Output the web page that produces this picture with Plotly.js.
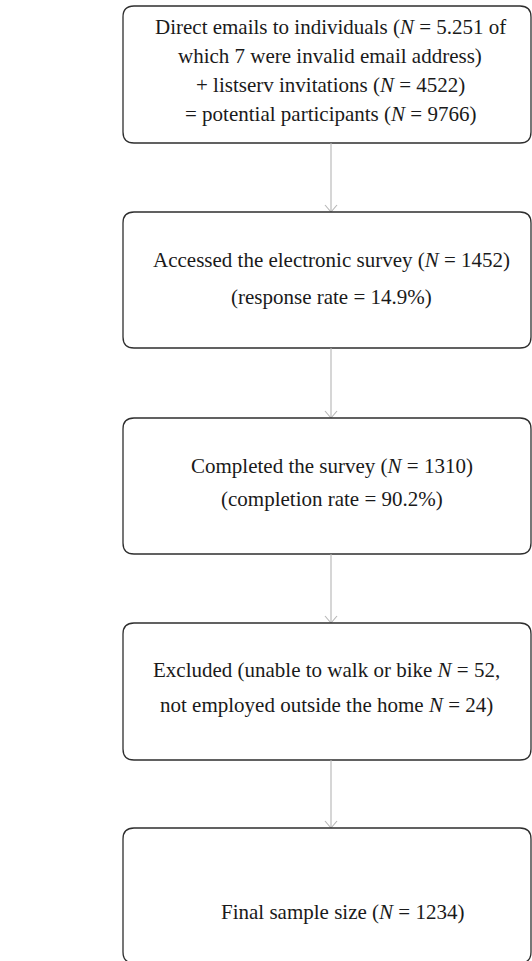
<!DOCTYPE html>
<html>
<head>
<meta charset="utf-8">
<script src="https://cdn.plot.ly/plotly-3.0.1.min.js"></script>
<style>html,body{margin:0;padding:0;background:#fff;}#chart{width:532px;height:961px;}</style>
</head>
<body>
<div id="chart"></div>
<script>
// ---- Data: the text of each step in the flow ----
const step1Lines = [
  "Direct emails to individuals (<i>N</i> = 5.251 of",
  "which 7 were invalid email address)",
  "+ listserv invitations (<i>N</i> = 4522)",
  "= potential participants (<i>N</i> = 9766)"
];
const step2Lines = [
  "Accessed the electronic survey (<i>N</i> = 1452)",
  "(response rate = 14.9%)"
];
const step3Lines = [
  "Completed the survey (<i>N</i> = 1310)",
  "(completion rate = 90.2%)"
];
const step4Lines = [
  "Excluded (unable to walk or bike <i>N</i> = 52,",
  "not employed outside the home <i>N</i> = 24)"
];
const step5Lines = [
  "Final sample size (<i>N</i> = 1234)"
];
const steps = [step1Lines, step2Lines, step3Lines, step4Lines, step5Lines];

// ---- Layout (positions / sizes / styles) ----
const W = 532, H = 961;
const boxLeft = 123, boxRight = 531, radius = 11;
const boxTop =    [6, 212, 418, 623, 828];
const boxBottom = [143, 348, 554, 760, 963];
const textCenterX = [330, 331, 332, 326, 342];
const lineYs = [[27, 56, 85, 114], [260, 297], [466, 499], [670, 705], [912]];
const arrowX = 331;
const font = {family: "'Liberation Serif', 'DejaVu Serif', serif", size: 21, color: "#1a1a1a"};

function roundRect(x0, y0, x1, y1, r) {
  return `M ${x0 + r},${y0} L ${x1 - r},${y0} Q ${x1},${y0} ${x1},${y0 + r} ` +
         `L ${x1},${y1 - r} Q ${x1},${y1} ${x1 - r},${y1} L ${x0 + r},${y1} ` +
         `Q ${x0},${y1} ${x0},${y1 - r} L ${x0},${y0 + r} Q ${x0},${y0} ${x0 + r},${y0} Z`;
}

const shapes = [];
const annotations = [];
steps.forEach((lines, i) => {
  shapes.push({
    type: "path", xref: "x", yref: "y",
    path: roundRect(boxLeft, boxTop[i], boxRight, boxBottom[i], radius),
    line: {color: "#2e2e2e", width: 1.3}, fillcolor: "rgba(0,0,0,0)", layer: "above"
  });
  lines.forEach((t, j) => {
    annotations.push({
      xref: "x", yref: "y", x: textCenterX[i], y: lineYs[i][j],
      text: t, showarrow: false, font: font, xanchor: "center", yanchor: "middle"
    });
  });
  if (i < steps.length - 1) {
    const y0 = boxBottom[i], y1 = boxTop[i + 1];
    const arrowStyle = {color: "#b5b5b5", width: 1.1};
    shapes.push({type: "line", xref: "x", yref: "y", x0: arrowX, x1: arrowX, y0: y0, y1: y1, line: arrowStyle});
    shapes.push({type: "line", xref: "x", yref: "y", x0: arrowX - 6, x1: arrowX, y0: y1 - 7, y1: y1, line: arrowStyle});
    shapes.push({type: "line", xref: "x", yref: "y", x0: arrowX + 6, x1: arrowX, y0: y1 - 7, y1: y1, line: arrowStyle});
  }
});

const layout = {
  width: W, height: H,
  margin: {l: 0, r: 0, t: 0, b: 0},
  paper_bgcolor: "#ffffff", plot_bgcolor: "#ffffff",
  xaxis: {range: [0, W], visible: false, fixedrange: true},
  yaxis: {range: [H, 0], visible: false, fixedrange: true},
  showlegend: false,
  shapes: shapes,
  annotations: annotations
};

Plotly.newPlot("chart", [], layout, {staticPlot: true, displayModeBar: false});
</script>
</body>
</html>
